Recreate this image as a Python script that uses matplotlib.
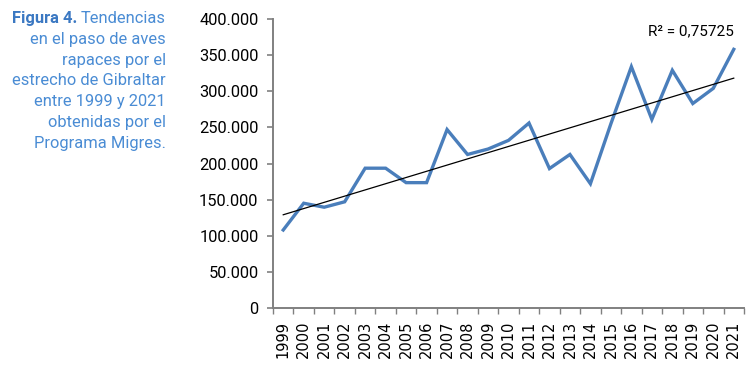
import numpy as np
import matplotlib
matplotlib.use('Agg')
import matplotlib.pyplot as plt
from matplotlib.ticker import FuncFormatter

# data
years = [str(y) for y in range(1999, 2022)]
birds = [108000, 145000, 139500, 147000, 193500, 193500, 173500, 173500,
         247000, 212500, 220000, 232000, 256000, 193000, 212500, 172000,
         255000, 334000, 261000, 329000, 283000, 304000, 358000]
r2_label = 'R\u00b2 = 0,75725'

caption_bold = 'Figura 4. '
caption_lines = ['Tendencias',
                 'en el paso de aves',
                 'rapaces por el',
                 'estrecho de Gibraltar',
                 'entre 1999 y 2021',
                 'obtenidas por el',
                 'Programa Migres.']

W, H = 751, 377
fig = plt.figure(figsize=(W/100, H/100), dpi=100)
ax = fig.add_axes([273/W, 1 - 308/H, 471/W, 289/H])

x = np.arange(len(years))
ax.plot(x, birds, color='#4A7EBB', lw=2.4, solid_joinstyle='miter', zorder=3)

# linear trend
k, b = np.polyfit(x, birds, 1)
ax.plot(x, k*x + b, color='black', lw=0.9, zorder=4)

ax.set_xlim(-0.5, len(years) - 0.5)
ax.set_ylim(0, 400000)
ax.set_yticks(np.arange(0, 400001, 50000))
ax.yaxis.set_major_formatter(FuncFormatter(lambda v, p: f'{int(v):,}'.replace(',', '.')))
ax.set_xticks(x)
ax.set_xticklabels(years, rotation=90, fontsize=10.5, family='DejaVu Sans')
ax.set_xticks(np.arange(-0.5, len(years), 1), minor=True)
ax.tick_params(axis='x', which='major', length=0, pad=9)
ax.tick_params(axis='x', which='minor', length=4.5, width=1, color='#808080', direction='out')
ax.tick_params(axis='y', length=4.5, width=1.2, color='#808080', pad=6)
for lab in ax.get_yticklabels():
    lab.set_family('Roboto')
    lab.set_fontsize(11.8)

for s in ['top', 'right']:
    ax.spines[s].set_visible(False)
for s in ['left', 'bottom']:
    ax.spines[s].set_color('#808080')
    ax.spines[s].set_linewidth(1.4)

ax.text(22.0, 0.945, r2_label, transform=ax.get_xaxis_transform(),
        ha='right', va='baseline', fontsize=11, family='Roboto')

# caption at left, right aligned
xr = 166/W
for i, line in enumerate(caption_lines):
    yb = 1 - (23 + i*20.8)/H
    t = fig.text(xr, yb, line, ha='right', va='baseline', fontsize=11.9,
                 family='Roboto', color='#4A8CD4')
    if i == 0:
        fig.canvas.draw()
        bb = t.get_window_extent()
        fig.text(bb.x0/W, yb, caption_bold, ha='right', va='baseline', fontsize=11.9,
                 family='Roboto', weight='bold', color='#3B78C2')

fig.savefig('out.png', dpi=100)
